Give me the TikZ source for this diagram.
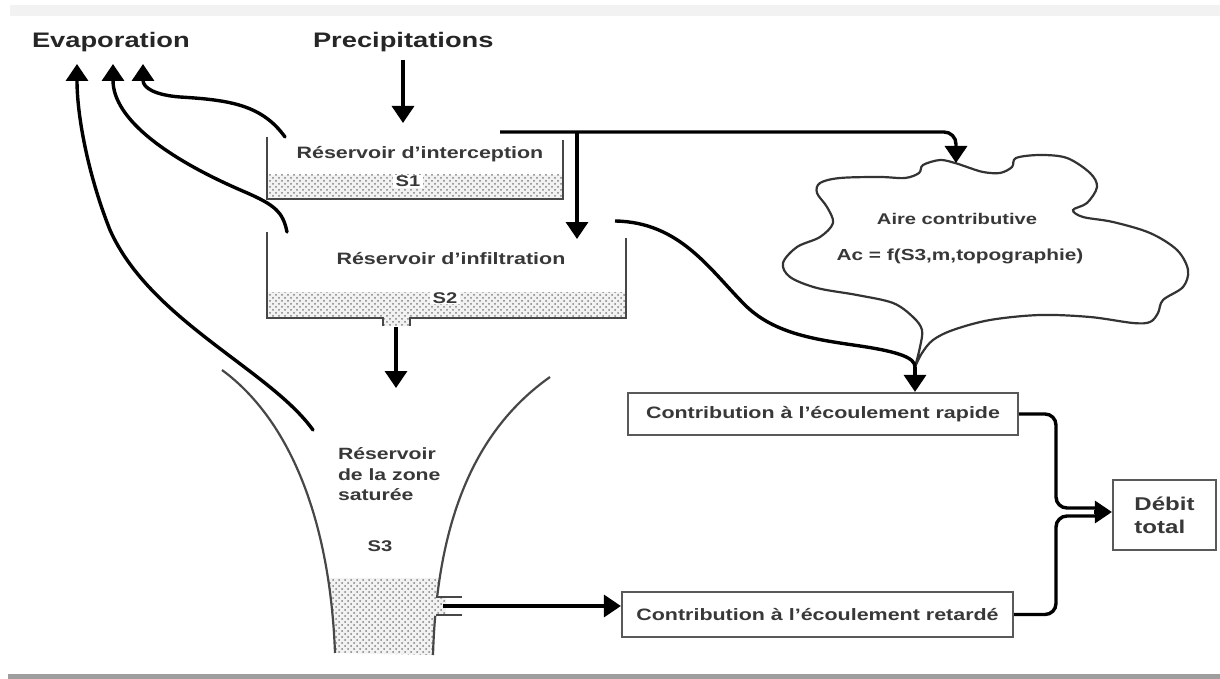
\documentclass[tikz,border=0pt]{standalone}
\usepackage{fontspec}
\setmainfont{Liberation Sans}
\usepackage{graphicx}
\usetikzlibrary{arrows.meta,patterns}
\newcommand{\tx}[2]{\scalebox{1.3}[1]{\fontsize{#1}{#1}\selectfont\bfseries #2}}
\pgfdeclarepatternformonly{sdots}{\pgfqpoint{-1.2pt}{-1.2pt}}{\pgfqpoint{4.2pt}{4.2pt}}{\pgfqpoint{6pt}{6pt}}%
{\pgfpathcircle{\pgfqpoint{0pt}{0pt}}{1pt}\pgfpathcircle{\pgfqpoint{3pt}{3pt}}{1pt}\pgfusepath{fill}}
\begin{document}
\begin{tikzpicture}[x=1pt,y=-1pt,
  lbl/.style={inner sep=0pt, outer sep=0pt, text=black!78},
  head/.style={inner sep=0pt, outer sep=0pt, text=black!85},
  tip/.style={-{Triangle[width=22pt,length=17pt]}},
  arr/.style={line width=3.4pt, draw=black, tip},
  thick line/.style={line width=3.4pt, draw=black},
  wall/.style={line width=2.2pt, draw=black!72},
  box/.style={draw=black!65, line width=2.2pt, inner sep=0pt, text=black!78},
  hatch/.style={pattern=sdots, pattern color=black!50},
  hatchbg/.style={fill=black!5},
  cloudline/.style={line width=2.2pt, draw=black!80}]
\useasboundingbox (0,0) rectangle (1220,679);
\fill[white] (0,0) rectangle (1220,679);
% frame bars
\fill[black!5] (10,5) rectangle (1220,16);
\fill[black!38] (8,674) rectangle (1220,679);

% titles
\node[head, anchor=base west] (evap) at (32,48) {\tx{21}{Evaporation}};
\node[head, anchor=base west] (precip) at (313,48) {\tx{21}{Precipitations}};

% ---------- Reservoir S1 ----------
\fill[hatchbg] (267,175) rectangle (563,199);
\fill[hatch] (267,175) rectangle (563,199);
\draw[wall] (267,137) -- (267,199) -- (563,199) -- (563,140);
\node[lbl, anchor=base] (t1) at (420,159) {\tx{16.5}{Réservoir d'interception}};
\node[lbl, anchor=base, fill=white, inner xsep=3pt, inner ysep=1pt] (s1) at (408,187) {\tx{15.5}{S1}};

% ---------- Reservoir S2 ----------
\fill[hatchbg] (267,292) rectangle (626,318) (383,318) rectangle (410,326);
\fill[hatch] (267,292) rectangle (626,318) (383,318) rectangle (410,326);
\draw[wall] (267,232) -- (267,318) -- (383,318) -- (383,326);
\draw[wall] (410,326) -- (410,318) -- (626,318) -- (626,238);
\node[lbl, anchor=base] (t2) at (451,264) {\tx{16.5}{Réservoir d'infiltration}};
\node[lbl, anchor=base, fill=white, inner xsep=3pt, inner ysep=1pt] (s2) at (445,303) {\tx{15.5}{S2}};

% ---------- Funnel S3 ----------
\begin{scope}
  \clip (0,578) rectangle (470,655);
  \fill[hatchbg] (222,370) .. controls (290,420) and (330,520) .. (335,653) -- (433,655) .. controls (437,520) and (475,430) .. (550,377) -- cycle;
  \fill[hatch] (222,370) .. controls (290,420) and (330,520) .. (335,653) -- (433,655) .. controls (437,520) and (475,430) .. (550,377) -- cycle;
\end{scope}
\fill[hatchbg] (433,598) rectangle (446,614);
\fill[hatch] (433,598) rectangle (446,614);
\draw[wall] (222,370) .. controls (290,420) and (330,520) .. (335,653);
\begin{scope}
  \clip (0,0) rectangle (1220,595);
  \draw[wall] (550,377) .. controls (475,430) and (437,520) .. (433,655);
\end{scope}
\begin{scope}
  \clip (0,616) rectangle (1220,679);
  \draw[wall] (550,377) .. controls (475,430) and (437,520) .. (433,655);
\end{scope}
\draw[wall] (436,597) -- (462,597);
\draw[wall] (436,615) -- (462,615);
\node[lbl, anchor=base west] (f1) at (338,459) {\tx{16.3}{Réservoir}};
\node[lbl, anchor=base west] (f2) at (338,480) {\tx{16.3}{de la zone}};
\node[lbl, anchor=base west] (f3) at (338,500) {\tx{16.3}{saturée}};
\node[lbl, anchor=base] (s3) at (380,551) {\tx{15.5}{S3}};

% ---------- boxes ----------
\node[box, minimum width=390pt, minimum height=42pt] (rapid) at (823,414) {\tx{16.5}{Contribution à l'écoulement rapide}};
\node[box, minimum width=391pt, minimum height=45pt] (retard) at (817.5,614.5) {\tx{16.5}{Contribution à l'écoulement retardé}};
\node[box, minimum width=103pt, minimum height=70pt, align=left,
      font=\fontsize{18.5}{23}\selectfont\bfseries] (debit) at (1164.5,515)
      {\scalebox{1.3}[1]{Débit}\\\scalebox{1.3}[1]{total}};

% ---------- cloud ----------
\coordinate (cusp) at (915,367);
\coordinate (cloudtop) at (956,163);
\draw[cloudline] plot[smooth, tension=0.55] coordinates {(915,367) (922,353) (933,340) (953,330) (990,320) (1040,315) (1090,317) (1133,323) (1150,322) (1158,313) (1163,300) (1183,287) (1188,270) (1177,250) (1150,233) (1113,222) (1083,217) (1073,210) (1087,203) (1097,187) (1090,173) (1067,158) (1040,155) (1016,158) (1012,167) (1000,173) (983,172) (967,167) (955,163) (940,160) (923,165) (919,173) (905,178) (880,177) (840,178) (820,183) (817,193) (827,207) (833,223) (820,237) (797,247) (783,263) (790,277) (817,288) (857,295) (893,303) (913,317) (922,330) (920,347) (915,367)};
\node[lbl, anchor=base] (aire) at (957,225) {\tx{15.5}{Aire contributive}};
\node[lbl, anchor=base] (ac) at (960,260) {\tx{16}{Ac = f(S3,m,topographie)}};

% ---------- connectors ----------
\coordinate (pr) at (403,60);
\draw[arr] (pr) -- (403,123);

\coordinate (s1out) at (500,132);
\coordinate (split) at (577,132);
\draw[thick line, rounded corners=12pt, tip] (s1out) -- (956,132) -- (cloudtop);
\draw[arr] (split) -- (577,239);

\coordinate (s2out) at (615,221);
\draw[thick line] (s2out) .. controls (680,222) and (710,270) .. (745,305) .. controls (775,335) and (820,340) .. (860,346) .. controls (900,352) and (915,358) .. (cusp);
\draw[arr] (cusp) -- (cusp |- rapid.north);

\coordinate (sout) at (396,327);
\draw[arr] (sout) -- (396,388);

% evaporation arrows
\coordinate (e1) at (77,64);
\coordinate (e2) at (113,64);
\coordinate (e3) at (143,64);
\coordinate (ev1) at (285,137);
\coordinate (ev2) at (287,232);
\coordinate (ev3) at (313,430);
\draw[arr, line cap=round] (ev1) .. controls (262,105) and (230,100) .. (180,97) .. controls (155,95) and (143,88) .. (e3);
\draw[arr, line cap=round] (ev2) .. controls (283,212) and (275,205) .. (245,192) .. controls (170,160) and (113,120) .. (e2);
\draw[arr, line cap=round] (ev3) .. controls (270,370) and (150,320) .. (110,230) .. controls (90,180) and (77,120) .. (e1);

% retarded flow
\coordinate (s3out) at (443,606);
\draw[arr] (s3out) -- (retard.west |- s3out);

% to total discharge
\coordinate (m1) at (1098,508);
\coordinate (m2) at (1098,516);
\draw[thick line, rounded corners=11pt] (rapid.east) -- (1056,414) -- (1056,508) -- (m1);
\draw[thick line, rounded corners=11pt] (retard.east) -- (1056,614.5) -- (1056,516) -- (m2);
\coordinate (mm) at (1094,512);
\draw[arr] (mm) -- (debit.west |- mm);
\end{tikzpicture}
\end{document}
